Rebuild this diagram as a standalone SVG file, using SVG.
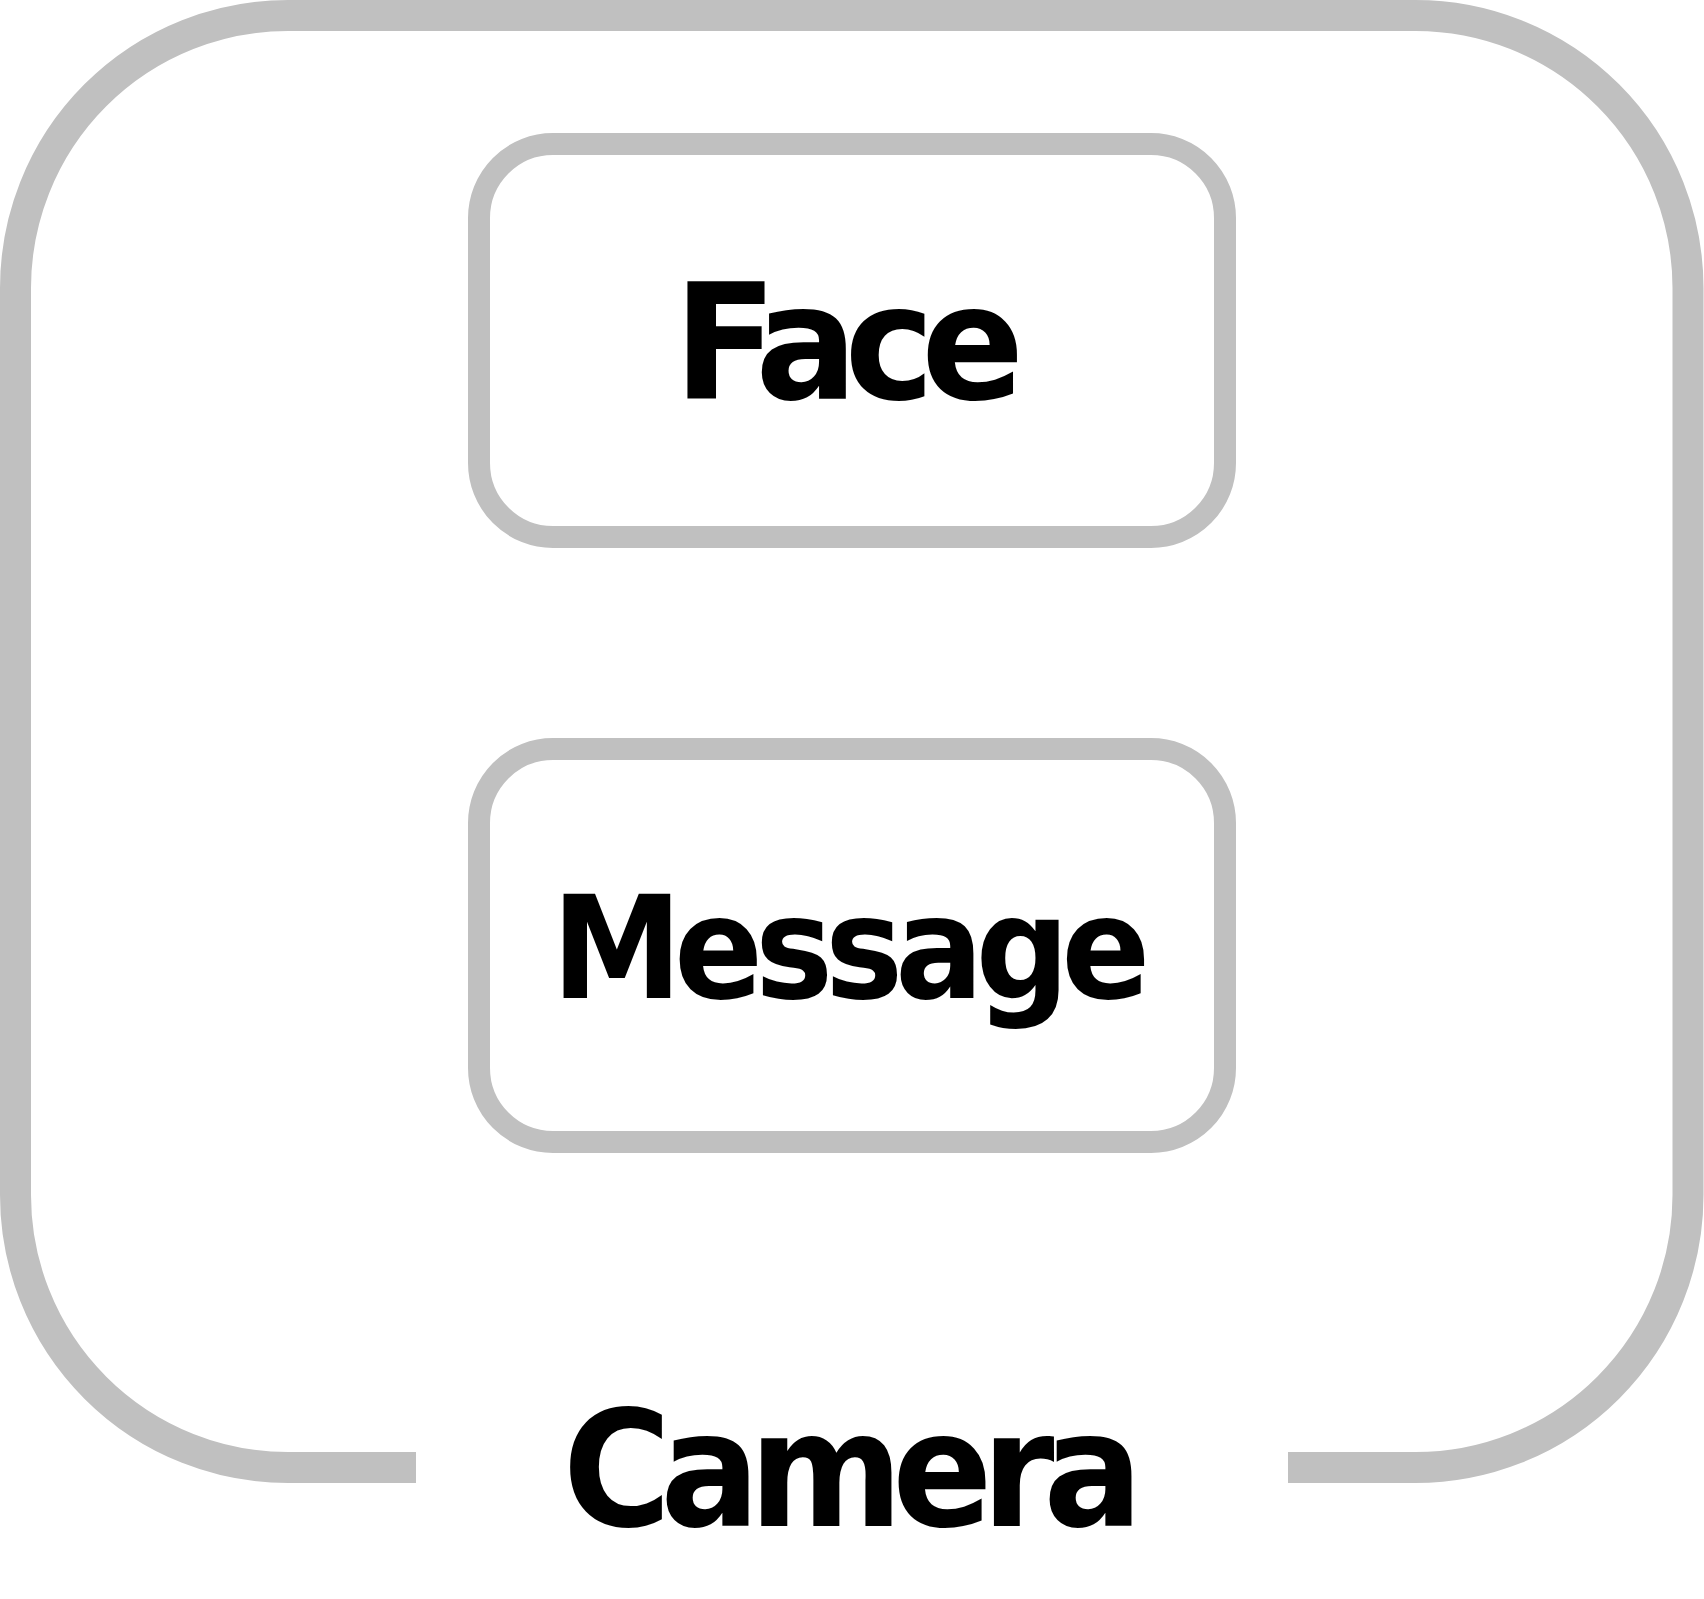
<svg xmlns="http://www.w3.org/2000/svg" width="1704" height="1599" viewBox="0 0 1704 1599">
<style>
.frame{fill:none;stroke:#c0c0c0;stroke-width:31;stroke-linecap:butt}
.box{fill:#ffffff;stroke:#c0c0c0;stroke-width:22}
.lbl{font-family:"DejaVu Sans","Verdana",sans-serif;font-weight:bold;fill:#000000;text-anchor:middle}
</style>
<rect width="1704" height="1599" fill="#ffffff"/>
<g id="camera">
<path class="frame" d="M416,1467.5 H288 A272.5,272.5 0 0 1 15.5,1195 V288 A272.5,272.5 0 0 1 288,15.5 H1415.5 A272.5,272.5 0 0 1 1688,288 V1195 A272.5,272.5 0 0 1 1415.5,1467.5 H1288"/>
<text class="lbl" transform="translate(853,1526) scale(0.925,1)" font-size="160" letter-spacing="-12" x="-6" y="0">Camera</text>
</g>
<g id="face">
<rect class="box" x="479" y="144" width="746" height="393" rx="74" ry="74"/>
<text class="lbl" transform="translate(849,399) scale(0.95,1)" font-size="160" letter-spacing="-14" x="-7" y="0">Face</text>
</g>
<g id="message">
<rect class="box" x="479" y="749" width="746" height="393" rx="74" ry="74"/>
<text class="lbl" transform="translate(851,998) scale(0.92,1)" font-size="143" letter-spacing="-9" x="-4.5" y="0">Message</text>
</g>
<g id="connectors"/>
</svg>
